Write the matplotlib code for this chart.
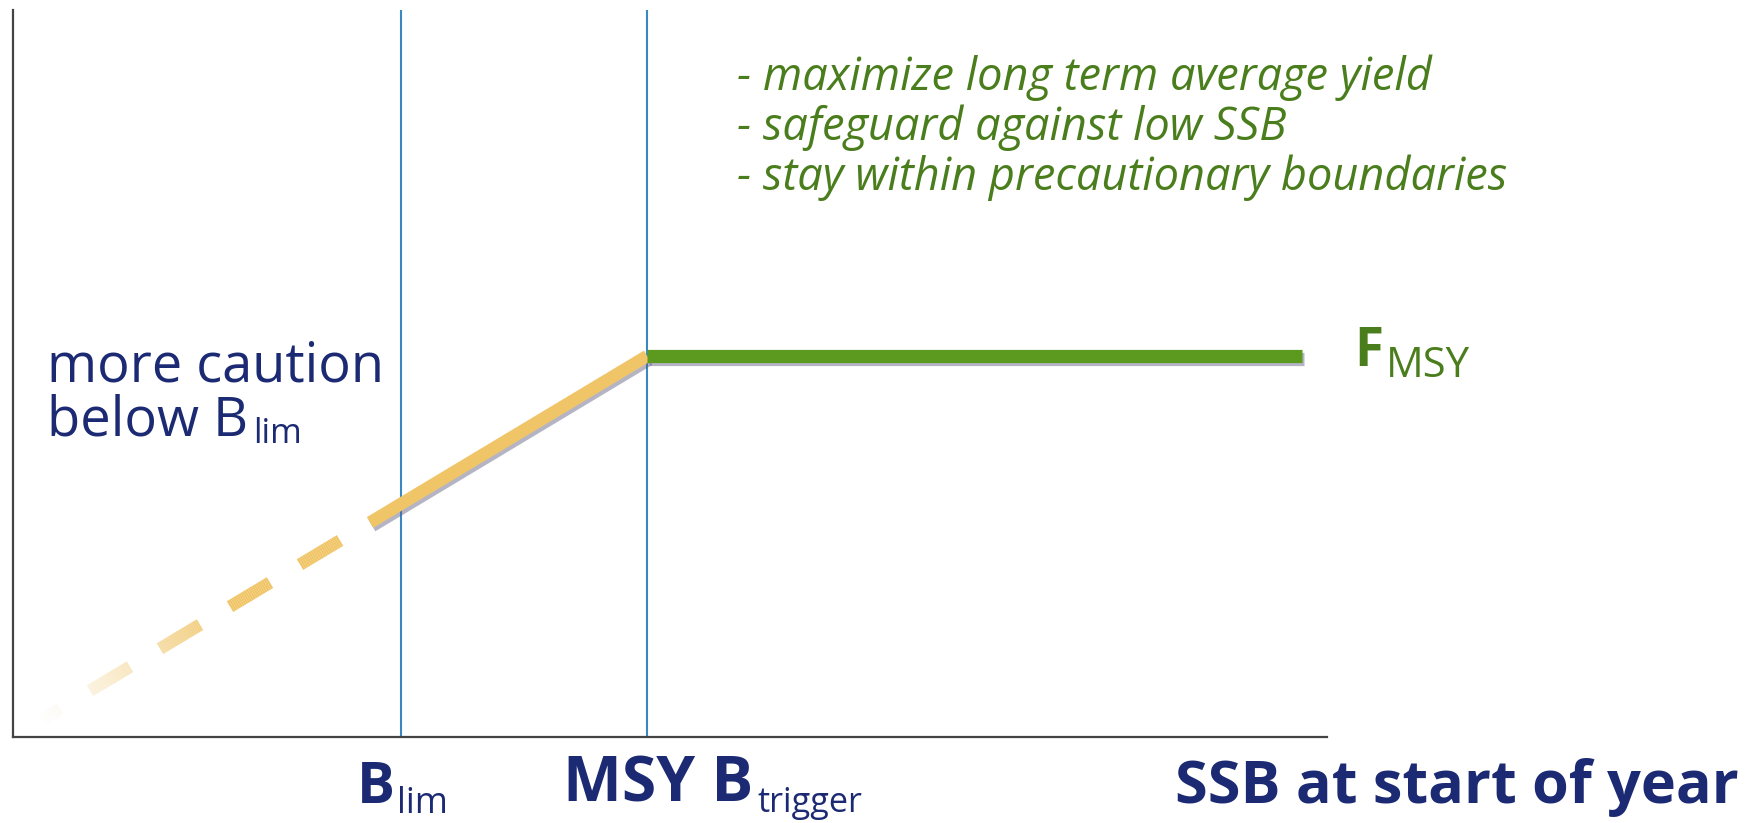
import matplotlib
matplotlib.use("Agg")
import matplotlib.pyplot as plt
import numpy as np
from matplotlib.collections import LineCollection
import matplotlib.patheffects as pe

# ---------------- data (relative units: B_trigger = 1, F_MSY = 1) ----------------
B_LIM = 0.612            # SSB at B_lim
B_TRIGGER = 1.0          # SSB at MSY B_trigger
F_MSY = 1.0              # target fishing mortality
SSB_END = 2.033          # end of the F_MSY plateau
SSB_SOLID_START = 0.563  # where the solid part of the ramp begins
SSB_DASH_START = 0.043   # where the faded dashed part begins
X_MAX = 2.072
Y_MAX = 1.908

objectives = ["- maximize long term average yield",
              "- safeguard against low SSB",
              "- stay within precautionary boundaries"]
caution_lines = ["more caution", "below B"]
caution_sub = "lim"
x_labels = [("B", "lim"), ("MSY B", "trigger")]
x_title = "SSB at start of year"
f_label = ("F", "MSY")

# ---------------- style ----------------
NAVY = "#1b2a72"
GREEN_TXT = "#4a7d1c"
GREEN = "#5b9a1e"
ORANGE = "#f0c567"
BLUE = "#3a88c2"
SPINE = "#444444"
FONT = "Open Sans"
OBJ_FONT = "Open Sans"

W, H = 1747, 823
fig = plt.figure(figsize=(W / 100, H / 100), dpi=100)
fig.patch.set_facecolor("white")
renderer = fig.canvas.get_renderer()

ax = fig.add_axes([13 / W, 1 - 737 / H, (1327 - 13) / W, (737 - 10) / H])
ax.set_xlim(0, X_MAX)
ax.set_ylim(0, Y_MAX)
ax.set_xticks([])
ax.set_yticks([])
for s in ["top", "right"]:
    ax.spines[s].set_visible(False)
for s in ["left", "bottom"]:
    ax.spines[s].set_color(SPINE)
    ax.spines[s].set_linewidth(1.6)
ax.patch.set_alpha(0)

# reference lines
for xb in (B_LIM, B_TRIGGER):
    ax.axvline(xb, ymin=0, ymax=1, color=BLUE, lw=1.5, zorder=1)

shadow = [pe.SimpleLineShadow(offset=(1.5, -2.5), shadow_color="#5a5a80", alpha=0.45),
          pe.Normal()]

# solid part of the ramp
rx = np.array([SSB_SOLID_START, B_TRIGGER])
ax.plot(rx, F_MSY * rx / B_TRIGGER, color=ORANGE, lw=9, solid_capstyle="butt",
        zorder=3, path_effects=shadow)

# F_MSY plateau
ax.plot([B_TRIGGER, SSB_END], [F_MSY, F_MSY], color=GREEN, lw=9.5,
        solid_capstyle="butt", zorder=4, path_effects=shadow)

# faded dashed part of the ramp
dash = 40 / 634
gap = 30 / 634
fade_full = (230 - 13) / 634
step = 0.003
segs, cols = [], []
x_hi = SSB_SOLID_START - gap
rgb = np.array(matplotlib.colors.to_rgb(ORANGE))
while x_hi > SSB_DASH_START:
    x_lo = max(x_hi - dash, SSB_DASH_START)
    xs = np.arange(x_lo, x_hi + 1e-9, step)
    if xs[-1] < x_hi:
        xs = np.append(xs, x_hi)
    for a, b in zip(xs[:-1], xs[1:]):
        m = 0.5 * (a + b)
        al = np.clip((m - SSB_DASH_START) / (fade_full - SSB_DASH_START), 0, 1) ** 1.2
        segs.append([(a, F_MSY * a / B_TRIGGER), (b, F_MSY * b / B_TRIGGER)])
        cols.append((*rgb, al))
    x_hi = x_lo - gap
lc = LineCollection(segs, colors=cols, linewidths=9, capstyle="butt", zorder=3)
ax.add_collection(lc)


# ---------------- text helpers (positions in pixels) ----------------
def px_text(x, y, s, width=None, size=30, **kw):
    t = fig.text(x / W, 1 - y / H, s, fontsize=size, va="baseline", ha="left", **kw)
    if width:
        w = t.get_window_extent(renderer).width
        t.set_fontsize(size * width / w)
    return t


# objectives (green italic)
for s, yb in zip(objectives, (90, 140, 190)):
    px_text(737, yb, s, size=32.5, color=GREEN_TXT, family=OBJ_FONT, style="italic")

# caution text
px_text(47, 382, caution_lines[0], width=337, color=NAVY, family=FONT)
px_text(47, 435, caution_lines[1], width=201, color=NAVY, family=FONT)
px_text(253, 443, caution_sub, width=49, color=NAVY, family=FONT)

# x-axis labels
px_text(357, 803, x_labels[0][0], width=38, color=NAVY, family=FONT, weight="bold")
px_text(397, 813, x_labels[0][1], width=51, color=NAVY, family=FONT)
px_text(563, 802, x_labels[1][0], width=190, color=NAVY, family=FONT, weight="bold")
px_text(757, 812, x_labels[1][1], width=105, color=NAVY, family=FONT)
px_text(1175, 803, x_title, width=564, color=NAVY, family=FONT, weight="bold")

# F_MSY label
px_text(1354, 366, f_label[0], width=29, color=GREEN_TXT, family=FONT, weight="bold")
px_text(1386, 377, f_label[1], width=84, color=GREEN_TXT, family=FONT)

fig.savefig("out.png", dpi=100, facecolor="white")
